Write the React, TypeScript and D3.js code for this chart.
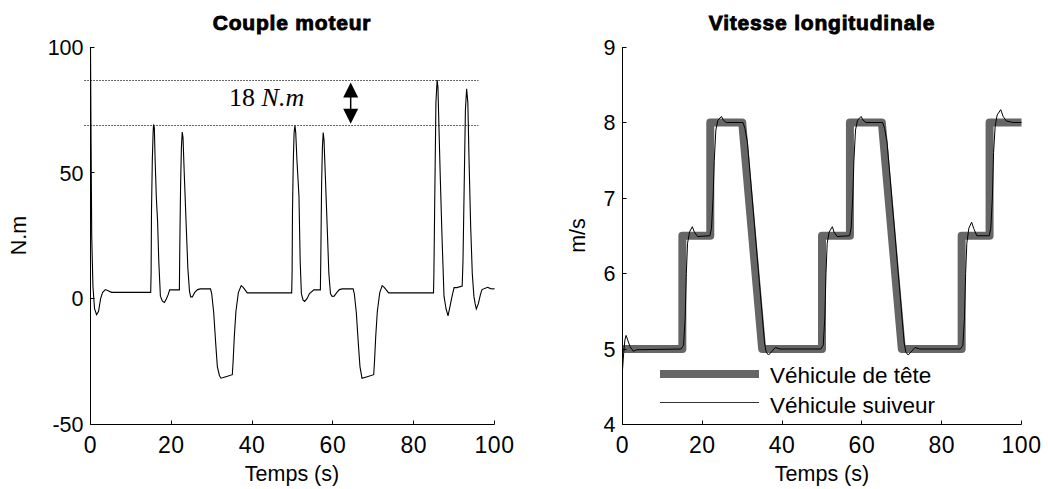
import React from 'react';
import * as d3 from 'd3';

// ---------- Data ----------
const xTicks = [0, 20, 40, 60, 80, 100];
const torqueTicks = [-50, 0, 50, 100];
const speedTicks = [4, 5, 6, 7, 8, 9];

// Couple moteur (N.m)
const torqueT = [
  0, 0.15, 0.3, 0.6, 1.0, 1.5, 2.0, 2.5, 3.0, 3.7, 4.5, 5.2, 14.9,
  15.0, 15.1, 15.3, 15.5, 15.6, 15.8, 16.0, 16.3, 16.6, 16.9, 17.3, 17.8, 18.3, 18.8, 19.2, 19.6, 21.9,
  22.0, 22.1, 22.3, 22.5, 22.7, 22.9, 23.2, 23.7, 24.1, 24.5, 24.8, 25.2, 25.8, 26.5, 27.2, 29.7, 30.0,
  30.5, 31.0, 31.4, 31.9, 32.3, 33.5, 35.1, 35.3, 35.6, 36.0, 36.6, 37.3, 37.8, 38.8, 49.8,
  49.9, 50.0, 50.2, 50.4, 50.6, 50.8, 51.1, 51.6, 51.9, 52.2, 52.6, 53.0, 53.6, 54.2, 55.3, 56.9,
  57.0, 57.2, 57.4, 57.6, 57.8, 58.1, 58.6, 59.0, 59.4, 59.8, 60.3, 61.0, 61.6, 62.3, 65.0, 65.3,
  65.8, 66.3, 66.7, 67.2, 68.5, 70.1, 70.3, 70.6, 71.0, 71.6, 72.2, 72.7, 73.8, 84.9,
  85.0, 85.2, 85.5, 85.8, 86.0, 86.3, 86.6, 87.0, 87.5, 88.0, 88.5, 89.0, 89.5, 90.0, 90.7, 92.0,
  92.2, 92.5, 92.8, 93.1, 93.4, 93.7, 94.1, 94.5, 94.9, 95.2, 95.5, 96.0, 96.5, 96.9, 98.3, 99.0, 100
];
const torqueV = [
  100, 60, 25, 5, -4, -6.4, -5, 0, 2.5, 3.6, 3.0, 2.5, 2.5,
  10, 35, 55, 66, 69.2, 68, 55, 40, 31, 15, 1, -1, -1.5, 0, 1.5, 3.5, 3.5,
  3.5, 20, 45, 60, 66.2, 64, 50, 28.6, 12, 3, 0.7, 0.7, 2.5, 3.6, 3.9, 3.9, 2,
  -5.6, -18, -27, -30.5, -31.6, -31, -30.2, -25, -15, -5, 2.4, 5.2, 4.5, 2.3, 2.3,
  10, 35, 55, 66, 68.8, 66, 55, 40.7, 15, 2, -0.5, -1.1, 0, 2, 3.5, 3.5,
  15, 45, 60, 66, 63, 50, 28, 10, 2, 0.9, 1, 2.5, 3.6, 3.9, 3.9, 2,
  -5.6, -18, -27, -31.6, -31, -30.2, -25, -15, -5, 2.4, 5.2, 4.5, 2.3, 2.3,
  10, 38, 78, 86.9, 84, 65, 47, 25, 1, -4, -6.8, -3, 1, 4.4, 4.4, 5,
  15, 45, 75, 83.4, 78, 55, 28.8, 10, 1, -2, -4.1, -2, 1.5, 3.6, 4.5, 4.0, 3.9
];

// Vitesse longitudinale (m/s) - véhicule de tête
const leaderT = [0, 15, 15, 22, 22, 30, 35, 50, 50, 57, 57, 65, 70, 85, 85, 92, 92, 100];
const leaderV = [5, 5, 6.5, 6.5, 8, 8, 5, 5, 6.5, 6.5, 8, 8, 5, 5, 6.5, 6.5, 8, 8];

// Véhicule suiveur
const followerT = [
  0, 0.3, 0.6, 0.9, 1.3, 1.9, 2.7, 3.6, 14.7,
  15.3, 15.7, 16.0, 16.3, 16.8, 17.5, 18.0, 18.8, 21.9,
  22.3, 22.7, 23.0, 23.4, 23.9, 24.8, 25.3, 26.0, 30.2,
  30.7, 31.3, 35.6, 36.0, 36.6, 37.3, 38.3, 39.5, 49.7,
  50.3, 50.7, 51.0, 51.3, 51.8, 52.6, 53.0, 53.8, 56.9,
  57.3, 57.7, 58.0, 58.4, 58.9, 59.8, 60.3, 61.0, 65.2,
  65.7, 66.3, 70.6, 71.0, 71.6, 72.3, 73.3, 74.5, 84.7,
  85.3, 85.7, 86.0, 86.3, 86.8, 87.5, 88.0, 88.8, 91.9,
  92.3, 92.7, 93.0, 93.4, 93.9, 94.8, 95.4, 96.2, 97.9, 100
];
const followerV = [
  4.72, 4.95, 5.12, 5.18, 5.12, 5.03, 4.97, 4.99, 5.0,
  5.05, 5.4, 6.0, 6.4, 6.55, 6.62, 6.55, 6.49, 6.5,
  6.6, 7.0, 7.5, 7.9, 8.03, 8.08, 8.03, 8.0, 8.0,
  7.92, 7.74, 5.08, 4.96, 4.92, 4.96, 5.02, 5.0, 5.0,
  5.05, 5.4, 6.0, 6.4, 6.55, 6.62, 6.55, 6.49, 6.5,
  6.6, 7.0, 7.5, 7.9, 8.03, 8.08, 8.03, 8.0, 8.0,
  7.92, 7.74, 5.08, 4.96, 4.92, 4.96, 5.02, 5.0, 5.0,
  5.05, 5.4, 6.0, 6.4, 6.6, 6.68, 6.6, 6.5, 6.5,
  6.6, 7.0, 7.6, 7.95, 8.1, 8.17, 8.08, 8.02, 8.0, 8.0
];

// Annotation
const refLevels = [86.7, 68.7];
const refRange = [-1.5, 96];
const arrowT = 64.4;
const annotationText = '18';
const annotationUnit = 'N.m';
const annotationPos = [43.6, 76.5];
const legendLabels = ['Véhicule de tête', 'Véhicule suiveur'];

const FONT = '"Liberation Sans", Arial, sans-serif';
const crisp = (v: number) => Math.round(v - 0.5) + 0.5;

export default function App() {
  const xL = d3.scaleLinear().domain([0, 100]).range([90.5, 494.5]);
  const yL = d3.scaleLinear().domain([-50, 100]).range([424.5, 47]);
  const xR = d3.scaleLinear().domain([0, 100]).range([622.5, 1021.5]);
  const yR = d3.scaleLinear().domain([4, 9]).range([424.5, 47]);

  const torquePath = d3.line<number>().x((_, i) => xL(torqueT[i])).y((d) => yL(d))(torqueV) || '';
  const leaderPath = d3.line<number>().x((_, i) => xR(leaderT[i])).y((d) => yR(d))(leaderV) || '';
  const followerPath = d3.line<number>().x((_, i) => xR(followerT[i])).y((d) => yR(d))(followerV) || '';

  const axes = (x: d3.ScaleLinear<number, number>, y: d3.ScaleLinear<number, number>, yTicks: number[], key: string) => {
    const [x0, x1] = x.range();
    const [y0, y1] = y.range();
    return (
      <g key={key}>
        <line x1={x0} x2={x0} y1={y0} y2={y1} stroke="#000" strokeWidth={1} />
        <line x1={x0} x2={x1} y1={y0} y2={y0} stroke="#000" strokeWidth={1} />
        {xTicks.map((t) => (
          <g key={'x' + t}>
            <line x1={crisp(x(t))} x2={crisp(x(t))} y1={y0} y2={y0 - 4} stroke="#000" />
            <text x={x(t)} y={453} textAnchor="middle" fontSize={23} fontFamily={FONT} letterSpacing={0.5}>
              {t}
            </text>
          </g>
        ))}
        {yTicks.map((t) => (
          <g key={'y' + t}>
            <line x1={x0} x2={x0 + 4} y1={crisp(y(t))} y2={crisp(y(t))} stroke="#000" />
            <text x={x0 - 7} y={y(t)} dy="0.36em" textAnchor="end" fontSize={21.5} fontFamily={FONT}>
              {t}
            </text>
          </g>
        ))}
      </g>
    );
  };

  const ay1 = yL(refLevels[0]) + 2;
  const ay2 = yL(refLevels[1]) - 2;
  const ax = xL(arrowT);

  return (
    <svg width={1048} height={489} style={{ position: 'absolute', left: 0, top: 0, background: '#fff' }}>
      <rect width={1048} height={489} fill="#fff" />
      {/* Left chart */}
      <text x={292} y={30} textAnchor="middle" fontSize={21} fontWeight="bold" fontFamily={FONT}
        letterSpacing={0.8} stroke="#000" strokeWidth={0.9}>Couple moteur</text>
      {refLevels.map((v) => (
        <line key={v} x1={xL(refRange[0])} x2={xL(refRange[1])} y1={crisp(yL(v))} y2={crisp(yL(v))}
          stroke="#000" strokeWidth={1} strokeDasharray="1.2,1.8" />
      ))}
      <path d={torquePath} fill="none" stroke="#000" strokeWidth={1.1} />
      {axes(xL, yL, torqueTicks, 'axL')}
      <text x={xL(annotationPos[0])} y={yL(annotationPos[1])} textAnchor="middle" fontSize={26}
        fontFamily='"Liberation Serif", "Times New Roman", serif'>
        {annotationText + ' '}<tspan fontStyle="italic">{annotationUnit}</tspan>
      </text>
      <line x1={ax} x2={ax} y1={ay1 + 10} y2={ay2 - 10} stroke="#000" strokeWidth={1.5} />
      <path d={`M${ax},${ay1} L${ax - 7.5},${ay1 + 15} L${ax + 7.5},${ay1 + 15} Z`} fill="#000" />
      <path d={`M${ax},${ay2} L${ax - 7.5},${ay2 - 15} L${ax + 7.5},${ay2 - 15} Z`} fill="#000" />
      <text x={292} y={481} textAnchor="middle" fontSize={21.5} fontFamily={FONT}>Temps (s)</text>
      <text transform="translate(26,235.5) rotate(-90)" textAnchor="middle" fontSize={21.5} fontFamily={FONT}>N.m</text>

      {/* Right chart */}
      <text x={822} y={30} textAnchor="middle" fontSize={21} fontWeight="bold" fontFamily={FONT}
        letterSpacing={0.8} stroke="#000" strokeWidth={0.9}>Vitesse longitudinale</text>
      <path d={leaderPath} fill="none" stroke="#666666" strokeWidth={8} strokeLinejoin="round" />
      <path d={followerPath} fill="none" stroke="#000" strokeWidth={1} />
      {axes(xR, yR, speedTicks, 'axR')}
      <line x1={660} x2={759} y1={374} y2={374} stroke="#666666" strokeWidth={8} />
      <text x={770} y={383} fontSize={22.5} fontFamily={FONT}>{legendLabels[0]}</text>
      <line x1={660} x2={759} y1={402.5} y2={402.5} stroke="#333" strokeWidth={1} />
      <text x={770} y={413} fontSize={22.5} fontFamily={FONT}>{legendLabels[1]}</text>
      <text x={822} y={481} textAnchor="middle" fontSize={21.5} fontFamily={FONT}>Temps (s)</text>
      <text transform="translate(585,235.5) rotate(-90)" textAnchor="middle" fontSize={21.5} fontFamily={FONT}>m/s</text>
    </svg>
  );
}
